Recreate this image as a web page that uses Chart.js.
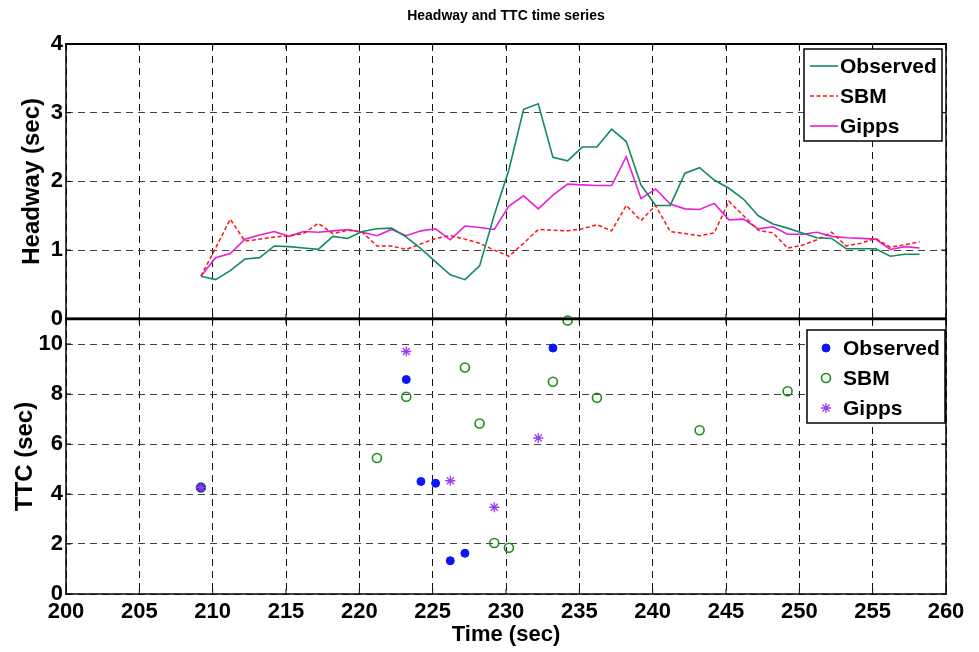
<!DOCTYPE html>
<html>
<head>
<meta charset="utf-8">
<title>Headway and TTC time series</title>
<script src="https://cdn.jsdelivr.net/npm/chart.js@4/dist/chart.umd.min.js"></script>
<style>
  html, body { margin: 0; padding: 0; background: #fff; }
  #wrap { position: relative; width: 979px; height: 652px; overflow: hidden; background: #fff; }
  #headwayCanvas { position: absolute; left: 0; top: 0; }
  #ttcCanvas { position: absolute; left: 0; top: 300px; }
</style>
</head>
<body>
<div id="wrap">
  <canvas id="headwayCanvas" width="979" height="335" style="width:979px;height:335px"></canvas>
  <canvas id="ttcCanvas" width="979" height="352" style="width:979px;height:352px"></canvas>
</div>
<script>
"use strict";

// time stamps of the headway samples (sec)
const headwayTime = [
  209.2, 210.2, 211.2, 212.2, 213.2, 214.2, 215.2, 216.2, 217.2, 218.2,
  219.2, 220.2, 221.2, 222.2, 223.2, 224.2, 225.2, 226.2, 227.2, 228.2,
  229.2, 230.2, 231.2, 232.2, 233.2, 234.2, 235.2, 236.2, 237.2, 238.2,
  239.2, 240.2, 241.2, 242.2, 243.2, 244.2, 245.2, 246.2, 247.2, 248.2,
  249.2, 250.2, 251.2, 252.2, 253.2, 254.2, 255.2, 256.2, 257.2, 258.2
];

const headwayObserved = [
  0.62, 0.57, 0.70, 0.87, 0.89, 1.06, 1.05, 1.03, 1.01, 1.20,
  1.17, 1.27, 1.31, 1.32, 1.19, 1.02, 0.83, 0.64, 0.57, 0.77,
  1.51, 2.17, 3.05, 3.13, 2.35, 2.30, 2.50, 2.50, 2.76, 2.58,
  1.95, 1.65, 1.65, 2.12, 2.20, 2.02, 1.90, 1.74, 1.50, 1.38,
  1.32, 1.25, 1.18, 1.17, 1.02, 1.02, 1.02, 0.91, 0.94, 0.94
];

const headwaySBM = [
  0.62, 1.03, 1.45, 1.13, 1.16, 1.19, 1.21, 1.24, 1.39, 1.24,
  1.29, 1.26, 1.06, 1.06, 1.01, 1.09, 1.17, 1.21, 1.16, 1.10,
  1.00, 0.91, 1.10, 1.30, 1.29, 1.28, 1.31, 1.37, 1.28, 1.65,
  1.43, 1.65, 1.27, 1.24, 1.21, 1.25, 1.71, 1.50, 1.29, 1.25,
  1.03, 1.07, 1.15, 1.26, 1.06, 1.10, 1.17, 1.04, 1.08, 1.12
];

const headwayGipps = [
  0.62, 0.89, 0.95, 1.16, 1.22, 1.27, 1.20, 1.27, 1.26, 1.28,
  1.30, 1.26, 1.21, 1.30, 1.21, 1.28, 1.31, 1.15, 1.35, 1.33,
  1.30, 1.64, 1.79, 1.60, 1.80, 1.96, 1.95, 1.94, 1.94, 2.36,
  1.75, 1.89, 1.67, 1.60, 1.59, 1.68, 1.44, 1.45, 1.31, 1.34,
  1.23, 1.23, 1.26, 1.20, 1.18, 1.17, 1.16, 1.01, 1.05, 1.03
];

// time to collision events (sec)
const ttcObservedTime = [209.2, 223.2, 224.2, 225.2, 226.2, 227.2, 233.2];
const ttcObserved = [4.26, 8.58, 4.50, 4.43, 1.33, 1.63, 9.84];

const ttcSBMTime = [209.2, 221.2, 223.2, 227.2, 228.2, 229.2, 230.2, 233.2, 234.2, 236.2, 243.2, 249.2];
const ttcSBM = [4.26, 5.44, 7.89, 9.06, 6.82, 2.04, 1.85, 8.49, 10.94, 7.85, 6.55, 8.11];

const ttcGippsTime = [209.2, 223.2, 226.2, 229.2, 232.2];
const ttcGipps = [4.26, 9.70, 4.53, 3.47, 6.24];

const seriesLabels = ["Observed", "SBM", "Gipps"];
const timeTicks = { min: 200, max: 260, step: 5 };
const headwayTicks = { min: 0, max: 4, step: 1 };
const ttcTicks = { min: 0, max: 11, step: 2 };

const FONT = "'Liberation Sans', Arial, Helvetica, sans-serif";

function toPoints(xs, ys) {
  return xs.map(function (x, i) {
    return { x: x, y: ys[i] };
  });
}

function fixedWidth(w) {
  return function (scale) {
    scale.width = w;
  };
}

function fixedHeight(h) {
  return function (scale) {
    scale.height = h;
  };
}

// box outline with inward tick marks, drawn over the plot
const framePlugin = {
  id: "frame",
  afterDatasetsDraw: function (chart, args, opts) {
    const ctx = chart.ctx;
    const a = chart.chartArea;
    const w = opts.widths;
    const len = opts.tickLength;
    ctx.save();
    ctx.strokeStyle = "#000";
    ctx.lineWidth = 1;
    chart.scales.x.ticks.forEach(function (t) {
      const px = chart.scales.x.getPixelForValue(t.value);
      ctx.beginPath();
      ctx.moveTo(px, a.bottom);
      ctx.lineTo(px, a.bottom - len);
      ctx.moveTo(px, a.top);
      ctx.lineTo(px, a.top + len);
      ctx.stroke();
    });
    chart.scales.y.ticks.forEach(function (t) {
      const py = chart.scales.y.getPixelForValue(t.value);
      ctx.beginPath();
      ctx.moveTo(a.left, py);
      ctx.lineTo(a.left + len, py);
      ctx.moveTo(a.right, py);
      ctx.lineTo(a.right - len, py);
      ctx.stroke();
    });
    function edge(x1, y1, x2, y2, lw) {
      ctx.lineWidth = lw;
      ctx.beginPath();
      ctx.moveTo(x1, y1);
      ctx.lineTo(x2, y2);
      ctx.stroke();
    }
    edge(a.left - 1, a.top, a.right + 1, a.top, w.top);
    edge(a.right, a.top, a.right, a.bottom, w.right);
    edge(a.left - 1, a.bottom, a.right + 1, a.bottom, w.bottom);
    edge(a.left, a.top, a.left, a.bottom, w.left);
    ctx.restore();
  }
};

// legend inside a white box with a black outline
const boxLegendPlugin = {
  id: "boxLegend",
  afterDraw: function (chart, args, opts) {
    const ctx = chart.ctx;
    ctx.save();
    ctx.fillStyle = "#fff";
    ctx.fillRect(opts.left, opts.top, opts.width, opts.height);
    ctx.strokeStyle = "#000";
    ctx.lineWidth = 1.5;
    ctx.strokeRect(opts.left, opts.top, opts.width, opts.height);
    ctx.font = "bold " + opts.fontSize + "px " + FONT;
    ctx.textBaseline = "middle";
    ctx.textAlign = "left";
    chart.data.datasets.forEach(function (ds, i) {
      const y = opts.firstRow + i * opts.rowGap;
      if (opts.kind === "line") {
        ctx.strokeStyle = ds.borderColor;
        ctx.lineWidth = ds.borderWidth;
        ctx.setLineDash(ds.borderDash || []);
        ctx.beginPath();
        ctx.moveTo(opts.sampleFrom, y);
        ctx.lineTo(opts.sampleTo, y);
        ctx.stroke();
        ctx.setLineDash([]);
      } else {
        ctx.fillStyle = ds.pointBackgroundColor;
        ctx.strokeStyle = ds.pointBorderColor;
        ctx.lineWidth = ds.pointBorderWidth;
        Chart.helpers.drawPoint(ctx, {
          pointStyle: ds.pointStyle,
          radius: ds.pointRadius,
          borderWidth: ds.pointBorderWidth,
          rotation: 0
        }, opts.markerX, y);
      }
      ctx.fillStyle = "#000";
      ctx.fillText(ds.label, opts.textX, y + 1);
    });
    ctx.restore();
  }
};

function gridOptions(color) {
  return {
    grid: { color: color, lineWidth: 1, drawTicks: false },
    border: { display: false, dash: [7, 5] }
  };
}

function tickFont() {
  return { family: FONT, size: 22, weight: "bold" };
}

function buildHeadwayChart() {
  const xGrid = gridOptions("#111");
  const yGrid = gridOptions("#444");
  return new Chart(document.getElementById("headwayCanvas"), {
    type: "line",
    data: {
      datasets: [
        {
          label: seriesLabels[0],
          data: toPoints(headwayTime, headwayObserved),
          borderColor: "#138a5e",
          borderWidth: 1.6,
          pointRadius: 0,
          tension: 0,
          fill: false
        },
        {
          label: seriesLabels[1],
          data: toPoints(headwayTime, headwaySBM),
          borderColor: "#ff1414",
          borderWidth: 1.5,
          borderDash: [4, 2.5],
          pointRadius: 0,
          tension: 0,
          fill: false
        },
        {
          label: seriesLabels[2],
          data: toPoints(headwayTime, headwayGipps),
          borderColor: "#e81ed8",
          borderWidth: 1.6,
          pointRadius: 0,
          tension: 0,
          fill: false
        }
      ]
    },
    options: {
      responsive: false,
      animation: false,
      events: [],
      layout: { padding: { left: 0, right: 33, top: 0, bottom: 16 } },
      scales: {
        x: {
          type: "linear",
          min: timeTicks.min,
          max: timeTicks.max,
          ticks: { stepSize: timeTicks.step, display: false },
          grid: xGrid.grid,
          border: xGrid.border,
          afterFit: fixedHeight(0)
        },
        y: {
          min: headwayTicks.min,
          max: headwayTicks.max,
          ticks: { stepSize: headwayTicks.step, color: "#000", padding: 3, font: tickFont() },
          grid: yGrid.grid,
          border: yGrid.border,
          title: {
            display: true,
            text: "Headway (sec)",
            color: "#000",
            font: { family: FONT, size: 24, weight: "bold" },
            padding: { top: 18, bottom: 0 }
          },
          afterFit: fixedWidth(66)
        }
      },
      plugins: {
        legend: { display: false },
        tooltip: { enabled: false },
        title: {
          display: true,
          text: "Headway and TTC time series",
          color: "#000",
          fullSize: false,
          font: { family: FONT, size: 14, weight: "bold" },
          padding: { top: 8, bottom: 19.2 }
        },
        frame: { widths: { top: 2, right: 1.5, bottom: 2.5, left: 1.5 }, tickLength: 5 },
        boxLegend: {
          kind: "line",
          left: 804, top: 49, width: 138, height: 92,
          firstRow: 66, rowGap: 30,
          sampleFrom: 810, sampleTo: 838, textX: 840,
          fontSize: 21
        }
      }
    },
    plugins: [framePlugin, boxLegendPlugin]
  });
}

function buildTtcChart() {
  const xGrid = gridOptions("#111");
  const yGrid = gridOptions("#444");
  return new Chart(document.getElementById("ttcCanvas"), {
    type: "scatter",
    data: {
      datasets: [
        {
          label: seriesLabels[0],
          data: toPoints(ttcObservedTime, ttcObserved),
          pointStyle: "circle",
          pointRadius: 4,
          pointBackgroundColor: "#0a14ff",
          pointBorderColor: "#0a14ff",
          pointBorderWidth: 1,
          clip: false,
          order: 2
        },
        {
          label: seriesLabels[1],
          data: toPoints(ttcSBMTime, ttcSBM),
          pointStyle: "circle",
          pointRadius: 4.5,
          pointBackgroundColor: "rgba(0,0,0,0)",
          pointBorderColor: "#1a8c1a",
          pointBorderWidth: 1.6,
          clip: false,
          order: 3
        },
        {
          label: seriesLabels[2],
          data: toPoints(ttcGippsTime, ttcGipps),
          pointStyle: "star",
          pointRadius: 5,
          pointBackgroundColor: "rgba(0,0,0,0)",
          pointBorderColor: "#9c3cf2",
          pointBorderWidth: 1.3,
          clip: false,
          order: 1
        }
      ]
    },
    options: {
      responsive: false,
      animation: false,
      events: [],
      layout: { padding: { left: 0, right: 33, top: 19, bottom: 0 } },
      scales: {
        x: {
          type: "linear",
          min: timeTicks.min,
          max: timeTicks.max,
          ticks: { stepSize: timeTicks.step, color: "#000", padding: 5, maxRotation: 0, font: tickFont() },
          grid: xGrid.grid,
          border: xGrid.border,
          title: {
            display: true,
            text: "Time (sec)",
            color: "#000",
            font: { family: FONT, size: 22, weight: "bold" },
            padding: { top: 0, bottom: 4 }
          },
          afterFit: fixedHeight(58)
        },
        y: {
          min: ttcTicks.min,
          max: ttcTicks.max,
          ticks: { stepSize: ttcTicks.step, includeBounds: false, color: "#000", padding: 3, font: tickFont() },
          grid: yGrid.grid,
          border: yGrid.border,
          title: {
            display: true,
            text: "TTC (sec)",
            color: "#000",
            font: { family: FONT, size: 24, weight: "bold" },
            padding: { top: 11, bottom: 0 }
          },
          afterFit: fixedWidth(66)
        }
      },
      plugins: {
        legend: { display: false },
        tooltip: { enabled: false },
        frame: { widths: { top: 2.5, right: 1.5, bottom: 1.5, left: 1.5 }, tickLength: 5 },
        boxLegend: {
          kind: "point",
          left: 807, top: 30, width: 138, height: 93,
          firstRow: 48, rowGap: 30,
          markerX: 826, textX: 843,
          fontSize: 21
        }
      }
    },
    plugins: [framePlugin, boxLegendPlugin]
  });
}

function init() {
  buildHeadwayChart();
  buildTtcChart();
}

init();
</script>
</body>
</html>
